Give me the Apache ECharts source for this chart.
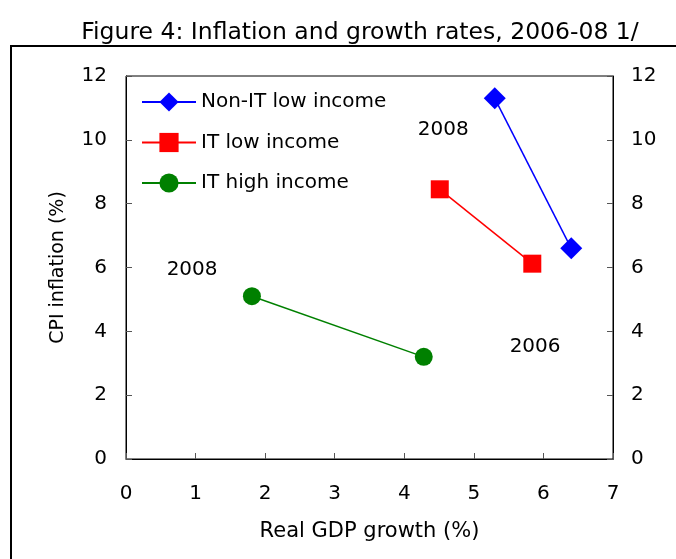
<!DOCTYPE html>
<html>
<head>
<meta charset="utf-8">
<script src="https://cdn.jsdelivr.net/npm/echarts@6/dist/echarts.min.js"></script>
<style>
  html, body { margin: 0; padding: 0; background: #fff; }
  #chart { width: 676px; height: 559px; }
</style>
</head>
<body>
<div id="chart"></div>
<script>
// Real GDP growth (x) vs CPI inflation (y), 2008 point first, then 2006
const seriesNames = ['Non-IT low income', 'IT low income', 'IT high income'];
const nonItLow = [[5.30, 11.3], [6.40, 6.6]];
const itLow = [[4.51, 8.45], [5.84, 6.12]];
const itHigh = [[1.81, 5.1], [4.28, 3.2]];
const yearNotes = [[4.56, 10.3, '2008'], [0.95, 5.92, '2008'], [5.88, 3.52, '2006']];
const xTicks = [0, 7, 1];
const yTicks = [0, 12, 2];

const FONT = '"DejaVu Sans", "Liberation Sans", Arial, sans-serif';
const chart = echarts.init(document.getElementById('chart'));

function axisY(position) {
  return {
    type: 'value', position: position,
    min: yTicks[0], max: yTicks[1], interval: yTicks[2],
    axisLine: { show: true, lineStyle: { color: '#000', width: 1 } },
    axisTick: { show: true, inside: true, length: 6, lineStyle: { color: '#555' } },
    axisLabel: { color: '#000', fontSize: 20, fontFamily: FONT, margin: position === 'left' ? 19 : 18 },
    splitLine: { show: false }
  };
}

const leftY = axisY('left');
leftY.name = 'CPI inflation (%)';
leftY.nameLocation = 'middle';
leftY.nameGap = 58;
leftY.nameTextStyle = { color: '#000', fontSize: 19, fontFamily: FONT };

chart.setOption({
  animation: false,
  title: {
    text: 'Figure 4: Inflation and growth rates, 2006-08 1/',
    left: 355, top: 16, textAlign: 'center',
    textStyle: { color: '#000', fontSize: 23.5, fontWeight: 'normal', fontFamily: FONT }
  },
  graphic: [{
    type: 'rect', shape: { x: 11, y: 46, width: 700, height: 560 },
    style: { fill: 'none', stroke: '#000', lineWidth: 2 }, silent: true
  }],
  grid: {
    left: 126, right: 63, top: 76, bottom: 100,
    show: true, borderColor: '#000', borderWidth: 1, backgroundColor: 'transparent'
  },
  legend: {
    orient: 'vertical', left: 136, top: 87,
    itemWidth: 54, itemHeight: 24, itemGap: 20.5,
    data: seriesNames,
    textStyle: { color: '#000', fontSize: 20, fontFamily: FONT }
  },
  xAxis: {
    type: 'value', min: xTicks[0], max: xTicks[1], interval: xTicks[2],
    name: 'Real GDP growth (%)', nameLocation: 'middle', nameGap: 62,
    nameTextStyle: { color: '#000', fontSize: 21, fontFamily: FONT },
    axisLine: { show: true, lineStyle: { color: '#000', width: 1 } },
    axisTick: { show: true, inside: true, length: 6, lineStyle: { color: '#555' } },
    axisLabel: { color: '#000', fontSize: 20, fontFamily: FONT, margin: 25 },
    splitLine: { show: false }
  },
  yAxis: [leftY, axisY('right')],
  series: [
    {
      name: seriesNames[0], type: 'line', data: nonItLow,
      symbol: 'diamond', symbolSize: 22,
      lineStyle: { color: '#0000ff', width: 1.5 }, itemStyle: { color: '#0000ff' }
    },
    {
      name: seriesNames[1], type: 'line', data: itLow,
      symbol: 'rect', symbolSize: 18,
      lineStyle: { color: '#ff0000', width: 1.5 }, itemStyle: { color: '#ff0000' }
    },
    {
      name: seriesNames[2], type: 'line', data: itHigh,
      symbol: 'circle', symbolSize: 18,
      lineStyle: { color: '#008000', width: 1.5 }, itemStyle: { color: '#008000' }
    },
    {
      // year annotations beside the end points
      type: 'scatter', data: yearNotes, symbolSize: 0, silent: true,
      itemStyle: { opacity: 1 },
      label: {
        show: true, position: [0, 0], align: 'center', verticalAlign: 'middle',
        formatter: p => p.data[2],
        color: '#000', textBorderWidth: 0, fontSize: 20, fontFamily: FONT
      }
    }
  ]
});
</script>
</body>
</html>
